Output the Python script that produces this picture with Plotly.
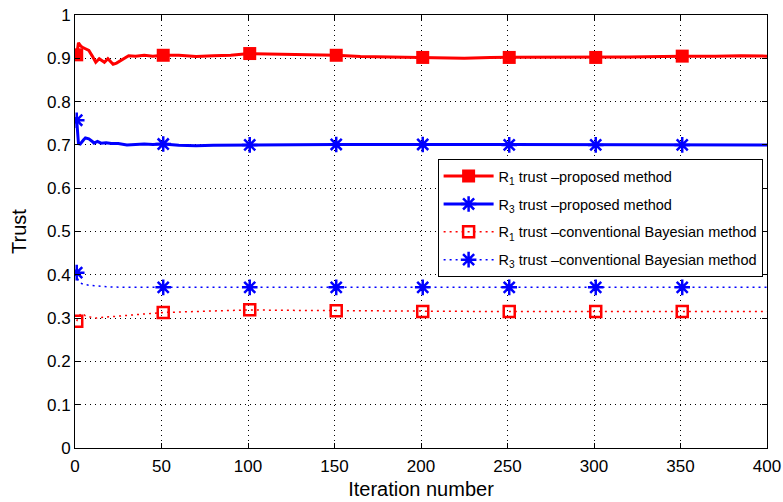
import plotly.graph_objects as go

# ---------------- data ----------------
marker_iters = [1, 51, 101, 151, 201, 251, 301, 351]

r1_prop_x = [1, 2, 3, 4, 6, 8, 10, 12, 14, 16, 17, 19, 22, 24, 26, 28, 31, 35, 40, 45,
             51, 60, 70, 80, 90, 101, 115, 130, 140, 151, 165, 180, 190, 201, 215, 225,
             240, 251, 265, 280, 301, 320, 340, 351, 370, 385, 400]
r1_prop_y = [0.908, 0.936, 0.930, 0.926, 0.922, 0.918, 0.905, 0.891, 0.899, 0.893, 0.891,
             0.899, 0.886, 0.889, 0.894, 0.900, 0.906, 0.905, 0.907, 0.905,
             0.907, 0.907, 0.904, 0.906, 0.907, 0.911, 0.910, 0.909, 0.909, 0.907, 0.904,
             0.903, 0.902, 0.902, 0.901, 0.900, 0.902, 0.902, 0.902, 0.903, 0.902, 0.903,
             0.904, 0.905, 0.905, 0.906, 0.905]

r3_prop_x = [1, 2, 3, 4, 5, 6, 8, 10, 11, 13, 15, 18, 21, 25, 30, 35, 40, 45, 51, 60, 70,
             80, 101, 130, 151, 180, 201, 230, 251, 280, 301, 330, 351, 380, 400]
r3_prop_y = [0.757, 0.703, 0.702, 0.708, 0.712, 0.716, 0.714, 0.708, 0.704, 0.708, 0.704,
             0.705, 0.703, 0.703, 0.700, 0.701, 0.702, 0.701, 0.702, 0.699, 0.698, 0.699,
             0.700, 0.700, 0.701, 0.701, 0.701, 0.700, 0.700, 0.700, 0.700, 0.700, 0.700,
             0.700, 0.700]

r1_conv_x = [1, 2, 3, 4, 5, 6, 8, 10, 12, 14, 17, 20, 25, 30, 35, 40, 45, 51, 60, 75, 90,
             101, 120, 151, 180, 201, 251, 301, 351, 400]
r1_conv_y = [0.293, 0.303, 0.308, 0.306, 0.309, 0.305, 0.303, 0.302, 0.300, 0.301, 0.302,
             0.302, 0.303, 0.305, 0.307, 0.309, 0.311, 0.313, 0.314, 0.316, 0.317,
             0.319, 0.318, 0.317, 0.316, 0.315, 0.315, 0.315, 0.315, 0.315]

r3_conv_x = [1, 2, 3, 5, 8, 12, 16, 20, 25, 30, 40, 51, 101, 151, 201, 251, 301, 351, 400]
r3_conv_y = [0.405, 0.385, 0.381, 0.378, 0.376, 0.374, 0.373, 0.372, 0.371, 0.371, 0.371,
             0.371, 0.371, 0.371, 0.371, 0.371, 0.371, 0.371, 0.371]

names = [
    "R<sub>1</sub> trust \u2013proposed method",
    "R<sub>3</sub> trust \u2013proposed method",
    "R<sub>1</sub> trust \u2013conventional Bayesian method",
    "R<sub>3</sub> trust \u2013conventional Bayesian method",
]

x_ticks = [0, 50, 100, 150, 200, 250, 300, 350, 400]
y_ticks = [0, 0.1, 0.2, 0.3, 0.4, 0.5, 0.6, 0.7, 0.8, 0.9, 1]
y_ticktext = ["0", "0.1", "0.2", "0.3", "0.4", "0.5", "0.6", "0.7", "0.8", "0.9", "1"]

# ---------------- styles ----------------
RED = "#ff0000"
BLUE = "#0000ff"
styles = [
    dict(line=dict(color=RED, width=3),
         marker=dict(symbol="square", size=13, color=RED)),
    dict(line=dict(color=BLUE, width=3),
         marker=dict(symbol="asterisk-open", size=13, color=BLUE,
                     line=dict(color=BLUE, width=2.5))),
    dict(line=dict(color=RED, width=1.5, dash="2px,4px"),
         marker=dict(symbol="square-open", size=11, color=RED,
                     line=dict(color=RED, width=2.5))),
    dict(line=dict(color=BLUE, width=1.5, dash="2px,4px"),
         marker=dict(symbol="asterisk-open", size=13, color=BLUE,
                     line=dict(color=BLUE, width=2.5))),
]
series = [(r1_prop_x, r1_prop_y), (r3_prop_x, r3_prop_y),
          (r1_conv_x, r1_conv_y), (r3_conv_x, r3_conv_y)]

fig = go.Figure()
for i, ((xs, ys), st, nm) in enumerate(zip(series, styles, names)):
    lookup = dict(zip(xs, ys))
    mx = [m for m in marker_iters if m in lookup]
    my = [lookup[m] for m in mx]
    fig.add_trace(go.Scatter(x=xs, y=ys, mode="lines", line=st["line"],
                             showlegend=False, legendgroup=f"g{i}", hoverinfo="skip"))
    fig.add_trace(go.Scatter(x=mx, y=my, mode="markers", marker=st["marker"],
                             showlegend=False, legendgroup=f"g{i}"))
    fig.add_trace(go.Scatter(x=[None], y=[None], mode="lines+markers", name=nm,
                             line=st["line"], marker=st["marker"],
                             showlegend=True, legendgroup=f"g{i}"))

axis_common = dict(
    showline=True, linecolor="black", linewidth=1, mirror="allticks",
    ticks="inside", ticklen=5, tickcolor="black",
    showgrid=True, gridcolor="black", gridwidth=1, griddash="1px,4px",
    zeroline=False, automargin=False,
    tickfont=dict(size=17, color="black"),
)

fig.update_layout(
    width=783, height=502,
    margin=dict(l=75, r=16, t=15, b=54),
    paper_bgcolor="white", plot_bgcolor="white",
    font=dict(family="Liberation Sans, Arial, sans-serif", color="black"),
    xaxis=dict(range=[0, 400], tickvals=x_ticks, ticklabelstandoff=3,
               title=dict(text="Iteration number", font=dict(size=20), standoff=6),
               **axis_common),
    yaxis=dict(range=[0, 1], tickvals=y_ticks, ticktext=y_ticktext,
               title=dict(text="Trust", font=dict(size=20), standoff=14),
               **axis_common),
    legend=dict(x=0.524, y=0.667, xanchor="left", yanchor="top",
                bgcolor="white", bordercolor="black", borderwidth=1,
                font=dict(size=14.5, color="black"), itemwidth=50,
                traceorder="grouped", tracegroupgap=6),
)

fig.write_html("out.html")
